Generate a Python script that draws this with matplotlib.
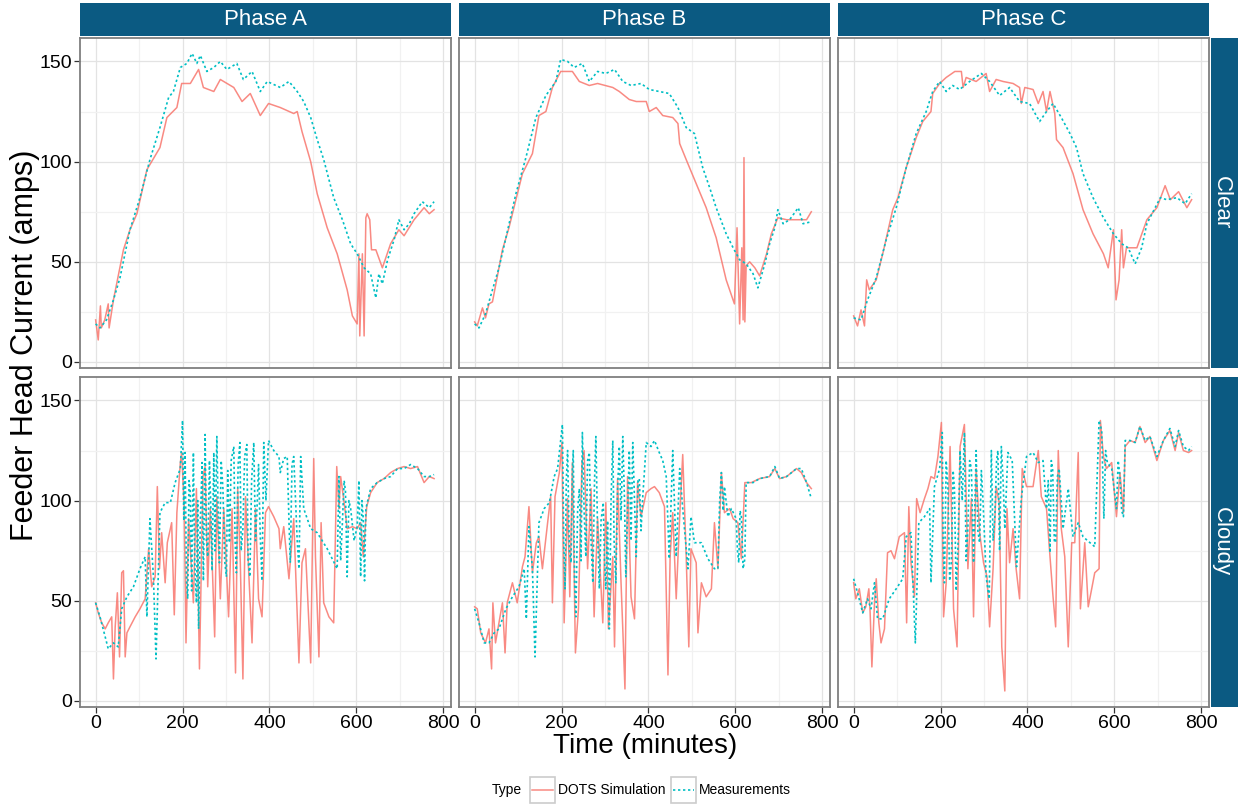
import matplotlib
matplotlib.use("Agg")
import matplotlib.pyplot as plt
from matplotlib.ticker import MultipleLocator

plt.rcParams['font.family'] = ['Liberation Sans', 'DejaVu Sans']

W, H = 1238, 805

phases = ['Phase A', 'Phase B', 'Phase C']
skies = ['Clear', 'Cloudy']
x_ticks = [0, 200, 400, 600, 800]
y_ticks = [0, 50, 100, 150]
series_names = ['DOTS Simulation', 'Measurements']

# ---- Clear day ----
clear_a_sim_t = [0, 6, 11, 13, 21, 29, 31, 41, 64, 79, 95, 118, 148, 164, 187, 198,
                 218, 237, 248, 272, 287, 318, 337, 356, 379, 398, 425, 456, 464, 475, 495, 510,
                 533, 556, 579, 591, 602, 606, 608, 614, 618, 622, 625, 631, 635, 645, 660, 679,
                 698, 710, 733, 756, 768, 779]
clear_a_sim = [21, 11, 28, 17, 21, 29, 17, 31, 56, 66, 74, 96, 107, 122, 127, 139,
               139, 146, 137, 135, 141, 137, 130, 134, 123, 129, 127, 124, 125, 115, 100, 84,
               67, 54, 36, 23, 19, 54, 13, 54, 13, 72, 74, 71, 56, 56, 47, 59,
               66, 63, 71, 77, 74, 76]
clear_a_meas_t = [0, 10, 25, 41, 56, 79, 102, 125, 148, 168, 179, 195, 210, 222, 233, 241,
                  256, 272, 287, 302, 325, 340, 360, 379, 395, 425, 445, 464, 479, 495, 510, 525,
                  548, 568, 587, 602, 618, 633, 645, 652, 660, 672, 687, 698, 710, 722, 733, 752,
                  768, 779]
clear_a_meas = [19, 17, 21, 31, 42, 66, 82, 101, 117, 132, 135, 147, 149, 154, 149, 153,
                145, 147, 150, 146, 149, 141, 145, 135, 140, 137, 140, 135, 130, 122, 111, 101,
                82, 71, 59, 54, 47, 44, 32, 44, 39, 51, 61, 71, 66, 69, 74, 80,
                77, 80]

clear_b_sim_t = [0, 6, 18, 25, 33, 41, 56, 64, 79, 95, 110, 133, 148, 164, 179, 198,
                 210, 225, 241, 264, 283, 318, 333, 356, 372, 395, 402, 418, 433, 456, 468, 472,
                 487, 510, 533, 556, 579, 598, 604, 610, 615, 618, 620, 622, 625, 633, 645, 656,
                 672, 683, 698, 718, 741, 764, 775]
clear_b_sim = [20, 18, 27, 22, 29, 30, 47, 56, 67, 81, 94, 104, 123, 125, 137, 145,
               145, 145, 140, 138, 139, 137, 135, 131, 130, 130, 125, 127, 123, 122, 119, 109,
               101, 89, 77, 62, 41, 29, 67, 19, 57, 21, 102, 20, 48, 50, 47, 43,
               54, 64, 72, 71, 71, 71, 75]
clear_b_meas_t = [0, 10, 25, 41, 56, 72, 95, 118, 141, 164, 187, 198, 214, 229, 248, 264,
                  283, 302, 322, 341, 360, 383, 402, 425, 448, 468, 487, 506, 525, 541, 556, 579,
                  595, 610, 625, 641, 652, 668, 679, 691, 698, 710, 725, 745, 756, 775]
clear_b_meas = [19, 17, 24, 36, 47, 62, 84, 102, 122, 133, 140, 151, 150, 147, 149, 140,
                145, 144, 146, 140, 138, 139, 136, 135, 134, 127, 117, 114, 97, 87, 77, 64,
                57, 51, 49, 44, 37, 49, 59, 67, 76, 69, 71, 77, 69, 70]

clear_c_sim_t = [0, 9, 17, 25, 30, 36, 52, 67, 90, 102, 121, 144, 159, 178, 182, 198,
                 213, 233, 248, 252, 259, 282, 305, 313, 328, 344, 367, 382, 386, 394, 413, 425,
                 436, 444, 452, 463, 467, 482, 505, 528, 551, 575, 586, 598, 604, 611, 617, 621,
                 628, 652, 675, 698, 717, 729, 748, 767, 778]
clear_c_sim = [23, 18, 26, 18, 41, 36, 41, 54, 76, 82, 97, 112, 120, 125, 134, 139,
               142, 145, 145, 137, 142, 140, 144, 135, 141, 140, 139, 137, 129, 137, 136, 129,
               135, 125, 135, 124, 111, 107, 94, 76, 64, 54, 47, 66, 31, 41, 66, 47,
               57, 57, 71, 77, 88, 81, 85, 77, 81]
clear_c_meas_t = [0, 17, 32, 52, 75, 98, 121, 144, 167, 182, 198, 213, 228, 244, 267, 294,
                  313, 336, 359, 382, 405, 428, 444, 459, 478, 498, 513, 528, 551, 575, 598, 617,
                  632, 648, 663, 675, 694, 706, 721, 744, 763, 778]
clear_c_meas = [22, 21, 31, 42, 61, 77, 97, 114, 125, 135, 140, 135, 138, 136, 140, 144,
                140, 133, 137, 130, 129, 120, 125, 129, 122, 114, 107, 94, 82, 72, 64, 59,
                57, 49, 57, 69, 77, 82, 81, 82, 79, 84]

# ---- Cloudy day ----
cloudy_a_sim_t = [0, 6, 14, 22, 29, 37, 41, 45, 50, 55, 60, 64, 68, 72, 79, 91,
                  102, 114, 122, 129, 137, 142, 147, 152, 160, 165, 175, 181, 187, 195, 198, 204,
                  208, 214, 225, 232, 239, 247, 252, 258, 264, 274, 279, 287, 295, 306, 314, 322,
                  327, 333, 339, 345, 352, 360, 368, 375, 383, 391, 398, 410, 422, 425, 433, 445,
                  456, 468, 475, 483, 495, 502, 506, 514, 519, 525, 537, 548, 555, 560, 564, 572,
                  579, 591, 602, 610, 616, 624, 633, 648, 664, 679, 695, 710, 725, 741, 756, 768,
                  779]
cloudy_a_sim = [49, 44, 39, 36, 39, 42, 11, 37, 54, 22, 64, 65, 22, 34, 37, 42,
                46, 51, 76, 57, 62, 107, 66, 84, 59, 79, 89, 43, 94, 119, 124, 96,
                29, 91, 49, 106, 16, 112, 117, 57, 96, 32, 102, 51, 96, 42, 96, 14,
                106, 69, 11, 102, 66, 29, 96, 51, 42, 94, 97, 92, 86, 76, 87, 61,
                91, 19, 69, 76, 19, 121, 72, 22, 89, 49, 42, 39, 117, 96, 112, 99,
                86, 87, 86, 89, 72, 97, 104, 109, 111, 114, 116, 117, 116, 117, 109, 112,
                111]
cloudy_a_meas_t = [0, 10, 22, 29, 41, 52, 60, 72, 87, 102, 114, 118, 125, 133, 139, 148,
                   160, 172, 183, 195, 200, 203, 206, 209, 212, 215, 218, 221, 225, 228, 232, 235,
                   237, 241, 245, 248, 252, 255, 258, 262, 265, 268, 272, 275, 279, 282, 285, 289,
                   293, 297, 301, 304, 308, 312, 318, 321, 324, 328, 332, 335, 339, 343, 348, 351,
                   355, 359, 364, 368, 372, 375, 379, 383, 387, 392, 398, 410, 422, 425, 433, 441,
                   445, 448, 452, 456, 464, 468, 472, 479, 495, 510, 533, 556, 560, 564, 568, 572,
                   575, 579, 583, 587, 595, 602, 606, 610, 613, 616, 619, 622, 633, 648, 664, 679,
                   695, 710, 725, 741, 756, 768, 779]
cloudy_a_meas = [49, 42, 32, 26, 29, 27, 46, 52, 57, 66, 72, 42, 91, 62, 21, 94,
                 99, 99, 109, 116, 140, 90, 124, 60, 51, 110, 104, 55, 124, 70, 49, 100,
                 36, 90, 119, 60, 133, 80, 72, 120, 97, 65, 124, 75, 132, 95, 69, 120,
                 106, 70, 62, 115, 79, 120, 127, 80, 64, 118, 129, 75, 86, 122, 128, 70,
                 62, 110, 129, 80, 99, 118, 82, 60, 129, 100, 130, 125, 122, 114, 121, 122,
                 90, 69, 118, 122, 80, 66, 122, 96, 86, 84, 76, 66, 112, 70, 89, 110,
                 105, 62, 100, 96, 80, 87, 110, 62, 100, 91, 60, 96, 106, 109, 111, 112,
                 116, 116, 118, 116, 112, 112, 113]

cloudy_b_sim_t = [0, 6, 14, 25, 33, 39, 42, 48, 56, 64, 70, 75, 87, 98, 110, 116,
                  125, 133, 142, 148, 156, 168, 175, 179, 185, 195, 201, 206, 214, 219, 225, 232,
                  239, 247, 252, 260, 268, 275, 283, 295, 302, 308, 318, 322, 329, 337, 341, 346,
                  352, 360, 368, 375, 383, 395, 406, 414, 425, 437, 445, 450, 456, 464, 472, 479,
                  487, 493, 498, 510, 514, 522, 533, 545, 552, 560, 568, 575, 587, 595, 606, 614,
                  622, 637, 656, 679, 691, 702, 718, 741, 752, 764, 775]
cloudy_b_sim = [47, 46, 34, 29, 36, 16, 49, 29, 39, 49, 24, 49, 59, 49, 67, 72,
                97, 64, 79, 82, 66, 89, 102, 49, 102, 114, 129, 39, 101, 52, 119, 24,
                46, 119, 125, 66, 106, 42, 91, 39, 99, 36, 72, 27, 111, 59, 36, 6,
                112, 52, 41, 109, 92, 104, 106, 107, 104, 97, 13, 72, 94, 51, 92, 123,
                72, 27, 76, 69, 34, 59, 52, 56, 89, 66, 114, 94, 96, 91, 89, 71,
                109, 109, 111, 112, 116, 111, 112, 116, 114, 109, 106]
cloudy_b_meas_t = [0, 10, 22, 33, 45, 56, 72, 87, 102, 114, 119, 125, 133, 139, 148, 160,
                   172, 183, 191, 202, 205, 208, 211, 214, 218, 222, 225, 227, 230, 233, 237, 241,
                   245, 248, 252, 256, 260, 264, 268, 272, 276, 279, 283, 287, 291, 296, 299, 302,
                   306, 310, 314, 318, 321, 325, 329, 333, 337, 341, 345, 348, 352, 356, 360, 364,
                   368, 372, 376, 379, 383, 387, 391, 395, 406, 414, 425, 433, 441, 448, 456, 464,
                   472, 479, 491, 498, 506, 522, 537, 552, 560, 564, 568, 572, 575, 583, 591, 602,
                   605, 608, 611, 614, 618, 622, 625, 641, 656, 679, 691, 702, 718, 741, 752, 764,
                   775]
cloudy_b_meas = [46, 39, 29, 29, 34, 36, 46, 52, 57, 66, 41, 87, 66, 22, 89, 96,
                 99, 112, 116, 138, 80, 56, 110, 125, 75, 69, 115, 125, 60, 42, 95, 106,
                 70, 134, 95, 72, 120, 124, 80, 59, 110, 132, 85, 56, 90, 99, 70, 56,
                 90, 36, 100, 130, 80, 59, 105, 127, 90, 132, 100, 62, 95, 125, 80, 129,
                 100, 72, 110, 111, 85, 102, 115, 129, 127, 130, 124, 120, 112, 71, 125, 72,
                 116, 96, 66, 92, 79, 79, 71, 66, 66, 100, 114, 95, 107, 92, 96, 91,
                 75, 69, 95, 92, 66, 71, 109, 109, 111, 112, 117, 111, 112, 116, 116, 109,
                 101]

cloudy_c_sim_t = [0, 5, 13, 21, 28, 35, 38, 42, 48, 52, 58, 63, 71, 78, 86, 94,
                  105, 117, 122, 127, 132, 140, 145, 153, 163, 171, 178, 186, 194, 202, 207, 213,
                  222, 230, 238, 245, 255, 263, 271, 276, 282, 290, 299, 307, 313, 321, 328, 335,
                  341, 348, 353, 359, 367, 374, 382, 388, 398, 413, 425, 432, 444, 452, 459, 465,
                  471, 478, 486, 494, 502, 509, 517, 522, 532, 540, 548, 555, 565, 568, 575, 582,
                  594, 605, 613, 621, 625, 636, 648, 659, 671, 682, 698, 713, 728, 740, 748, 759,
                  771, 778]
cloudy_c_sim = [59, 51, 56, 44, 47, 56, 44, 17, 49, 61, 39, 29, 36, 74, 75, 71,
                82, 84, 39, 97, 69, 52, 101, 94, 101, 106, 112, 111, 122, 139, 42, 59,
                127, 46, 27, 127, 138, 66, 101, 42, 116, 84, 69, 62, 37, 66, 107, 99,
                27, 5, 96, 69, 86, 66, 51, 116, 107, 107, 125, 102, 96, 72, 52, 37,
                125, 86, 72, 27, 79, 79, 124, 46, 79, 47, 56, 64, 66, 140, 122, 116,
                119, 92, 114, 94, 127, 130, 129, 137, 129, 132, 120, 130, 135, 125, 134, 125,
                124, 125]
cloudy_c_meas_t = [0, 9, 21, 32, 40, 48, 55, 67, 82, 98, 113, 121, 132, 142, 150, 163,
                   175, 178, 186, 198, 204, 206, 209, 213, 217, 221, 225, 229, 232, 236, 240, 245,
                   250, 255, 259, 263, 267, 271, 276, 282, 286, 290, 294, 298, 305, 312, 317, 321,
                   325, 329, 332, 336, 340, 344, 348, 355, 365, 375, 386, 398, 413, 425, 436, 444,
                   448, 452, 455, 458, 462, 465, 469, 473, 482, 494, 505, 517, 528, 544, 555, 565,
                   571, 576, 580, 584, 594, 605, 609, 613, 617, 621, 625, 636, 648, 659, 671, 682,
                   698, 713, 728, 740, 748, 759, 771, 778]
cloudy_c_meas = [61, 54, 44, 51, 46, 59, 41, 41, 51, 56, 61, 82, 84, 29, 89, 92,
                 96, 59, 107, 116, 134, 80, 59, 120, 107, 60, 69, 115, 106, 55, 76, 125,
                 100, 134, 70, 86, 120, 116, 69, 125, 85, 79, 115, 99, 62, 51, 125, 80,
                 92, 120, 125, 75, 127, 110, 86, 124, 120, 67, 101, 122, 124, 119, 120, 96,
                 110, 74, 120, 116, 80, 79, 112, 116, 86, 106, 82, 89, 82, 79, 77, 140,
                 135, 91, 125, 119, 116, 96, 120, 112, 95, 92, 130, 130, 129, 137, 130, 132,
                 122, 130, 136, 127, 135, 127, 125, 127]

panels = {
    ('Clear', 'Phase A'): (clear_a_sim_t, clear_a_sim, clear_a_meas_t, clear_a_meas),
    ('Clear', 'Phase B'): (clear_b_sim_t, clear_b_sim, clear_b_meas_t, clear_b_meas),
    ('Clear', 'Phase C'): (clear_c_sim_t, clear_c_sim, clear_c_meas_t, clear_c_meas),
    ('Cloudy', 'Phase A'): (cloudy_a_sim_t, cloudy_a_sim, cloudy_a_meas_t, cloudy_a_meas),
    ('Cloudy', 'Phase B'): (cloudy_b_sim_t, cloudy_b_sim, cloudy_b_meas_t, cloudy_b_meas),
    ('Cloudy', 'Phase C'): (cloudy_c_sim_t, cloudy_c_sim, cloudy_c_meas_t, cloudy_c_meas),
}

red = '#F8766D'
cyan = '#00BFC4'
strip_col = '#0B5A82'
dotted = (0, (1.4, 1.6))


def box(x0, y0, x1, y1):
    # pixel box (top-left origin) -> figure fraction rect
    return [x0 / W, 1 - y1 / H, (x1 - x0) / W, (y1 - y0) / H]


fig = plt.figure(figsize=(W / 100, H / 100), dpi=100)

col_x = [(80, 451), (459, 830), (838, 1209)]
row_y = [(38, 368), (377, 707)]

for r, sky in enumerate(skies):
    for c, phase in enumerate(phases):
        x0, x1 = col_x[c]
        y0, y1 = row_y[r]
        ax = fig.add_axes(box(x0, y0, x1, y1))
        sim_t, sim, meas_t, meas = panels[(sky, phase)]
        ax.plot(sim_t, sim, color=red, lw=1.1, alpha=0.85)
        ax.plot(meas_t, meas, color=cyan, lw=1.2, ls=dotted)
        ax.set_xlim(-36, 818)
        ax.set_ylim(-3, 161.7)
        ax.set_xticks(x_ticks)
        ax.set_yticks(y_ticks)
        ax.xaxis.set_minor_locator(MultipleLocator(100))
        ax.yaxis.set_minor_locator(MultipleLocator(25))
        ax.grid(which='major', color='#E3E3E3', lw=0.9)
        ax.grid(which='minor', color='#F1F1F1', lw=0.9)
        ax.set_axisbelow(True)
        for s in ax.spines.values():
            s.set_color('#7F7F7F')
            s.set_linewidth(1.3)
        ax.tick_params(which='minor', length=0)
        ax.tick_params(which='major', length=4, width=0.9, color='#333333',
                       labelsize=14, labelcolor='black', pad=2)
        if r == 0:
            ax.tick_params(axis='x', length=0, labelbottom=False)
        if c != 0:
            ax.tick_params(axis='y', length=0, labelleft=False)

        if r == 0:
            st = fig.add_axes(box(x0, 3, x1, 36))
            st.set_facecolor(strip_col)
            st.set_xticks([])
            st.set_yticks([])
            for s in st.spines.values():
                s.set_visible(False)
            st.text(0.5, 0.5, phase, color='white', fontsize=16,
                    ha='center', va='center', transform=st.transAxes)
        if c == 2:
            st = fig.add_axes(box(1211, y0, 1238, y1))
            st.set_facecolor(strip_col)
            st.set_xticks([])
            st.set_yticks([])
            for s in st.spines.values():
                s.set_visible(False)
            st.text(0.4, 0.5, sky, color='white', fontsize=16, rotation=-90,
                    ha='center', va='center', transform=st.transAxes)

fig.text(645 / W, 1 - 746 / H, 'Time (minutes)', fontsize=20, ha='center', va='center')
fig.text(25 / W, 1 - 345 / H, 'Feeder Head Current (amps)', fontsize=22,
         rotation=90, ha='center', va='center')

# legend drawn in its own pixel-scaled axes
lg = fig.add_axes(box(480, 775, 810, 805))
lg.set_xlim(480, 810)
lg.set_ylim(805, 775)
lg.axis('off')
lg.text(492, 790, 'Type', fontsize=10, ha='left', va='center')
key_boxes = [(530, 555), (671, 696)]
key_styles = [dict(color=red, lw=1.1, alpha=0.85), dict(color=cyan, lw=1.2, ls=dotted)]
for (kx0, kx1), name, sty in zip(key_boxes, series_names, key_styles):
    lg.add_patch(plt.Rectangle((kx0, 777), kx1 - kx0, 26, fill=False,
                               ec='#CCCCCC', lw=1.2))
    lg.plot([kx0 + 2, kx1 - 2], [790, 790], **sty)
    lg.text(kx1 + 3, 790, name, fontsize=10, ha='left', va='center')

fig.savefig('out.png', dpi=100)
